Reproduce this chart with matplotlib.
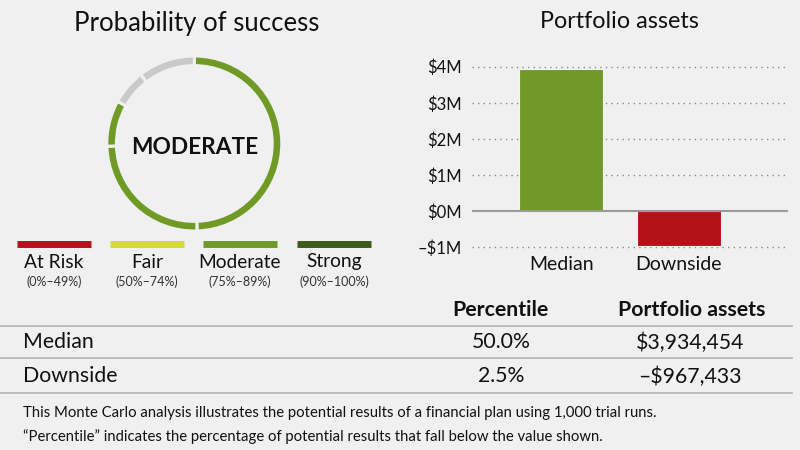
import matplotlib.pyplot as plt
import numpy as np

plt.rcParams['font.family'] = ['Lato', 'DejaVu Sans']

# data
success_pct = 83
rating = "MODERATE"
band_names = ["At Risk", "Fair", "Moderate", "Strong"]
band_ranges = ["(0%–49%)", "(50%–74%)", "(75%–89%)", "(90%–100%)"]
band_colors = ["#b5121b", "#d5d93c", "#6e9a2a", "#3f5b1b"]
band_edges = [49.5, 74.5, 89.5, 100]

scenarios = ["Median", "Downside"]
percentiles = ["50.0%", "2.5%"]
assets = [3934454, -967433]
asset_labels = ["$3,934,454", "–$967,433"]
yticks = [-1, 0, 1, 2, 3, 4]
ytick_labels = ["–$1M", "$0M", "$1M", "$2M", "$3M", "$4M"]

notes = ["This Monte Carlo analysis illustrates the potential results of a financial plan using 1,000 trial runs.",
         "“Percentile” indicates the percentage of potential results that fall below the value shown."]

bg = "#f0f0f0"
green = "#6f9a26"
red = "#b31217"
gray_ring = "#c9c9c9"

fig = plt.figure(figsize=(8, 4.5), dpi=100, facecolor=bg)
W, H = 800, 450

# background axes in pixel coordinates
base = fig.add_axes([0, 0, 1, 1])
base.set_xlim(0, W)
base.set_ylim(H, 0)
base.axis('off')
base.set_facecolor(bg)

# ---- donut ----
cx, cy, r = 194.3, 143.5, 87.5
dax = fig.add_axes([(cx - r) / W, 1 - (cy + r) / H, 2 * r / W, 2 * r / H])
bounds = sorted(set([0] + band_edges + [success_pct]))
sizes = np.diff(bounds)
cols = [green if b1 <= success_pct else gray_ring for b1 in bounds[1:]]
dax.pie(sizes, colors=cols, startangle=90, counterclock=False, radius=1,
        wedgeprops=dict(width=0.11, edgecolor=bg, linewidth=2.2))
dax.set_xlim(-1, 1)
dax.set_ylim(-1, 1)
dax.set_aspect('auto')
dax.axis('off')
dax.text(0, -0.05, rating, ha='center', va='center', fontsize=16.3, fontweight='bold', color='#111111')

base.text(197, 23, "Probability of success", ha='center', va='center', fontsize=18.5, color='#111111')

# legend bands
lx0 = [17, 110, 203, 297]
for i, name in enumerate(band_names):
    base.plot([lx0[i], lx0[i] + 74], [244, 244], color=band_colors[i], lw=5, solid_capstyle='butt')
    base.text(lx0[i] + 37, 262, name, ha='center', va='center', fontsize=13.8, color='#111111')
    base.text(lx0[i] + 37, 282, band_ranges[i], ha='center', va='center', fontsize=9, color='#333333')

# ---- bar chart ----
ppm = 36.1
ylo, yhi = -1.05, 4.05
top_px = 66.7 - (yhi - 4) * ppm
h_px = (yhi - ylo) * ppm
bax = fig.add_axes([471.7 / W, 1 - (top_px + h_px) / H, (788 - 471.7) / W, h_px / H])
bax.set_facecolor('none')
vals = [a / 1e6 for a in assets]
bax.bar(range(len(scenarios)), vals, width=0.715, color=[green, red], edgecolor='#f4f4f4', linewidth=0.8, zorder=3)
bax.set_xlim(-0.76, 1.93)
bax.set_ylim(ylo, yhi)
for t in yticks:
    if t == 0:
        bax.axhline(0, color='#9a9a9a', lw=1.5, zorder=4)
    else:
        bax.axhline(t, color='#8a8a8a', lw=1, ls=(0, (1, 3)), zorder=1)
bax.set_yticks(yticks)
bax.set_yticklabels(ytick_labels, fontsize=12, color='#111111')
bax.set_xticks(range(len(scenarios)))
bax.set_xticklabels(scenarios, fontsize=14, color='#111111')
bax.tick_params(length=0)
bax.tick_params(axis='y', pad=7)
bax.tick_params(axis='x', pad=5)
for s in bax.spines.values():
    s.set_visible(False)

base.text(619, 22, "Portfolio assets", ha='center', va='center', fontsize=16.8, color='#111111')

# ---- table ----
base.text(500, 310, "Percentile", ha='center', va='center', fontsize=15.3, fontweight='bold', color='#111111')
base.text(692, 310, "Portfolio assets", ha='center', va='center', fontsize=15.3, fontweight='bold', color='#111111')
for yl in [325.7, 358.3, 392.7]:
    base.plot([0, 792], [yl, yl], color='#b5b5b5', lw=1.2)
row_y = [342.5, 376.5]
for i, s in enumerate(scenarios):
    base.text(23, row_y[i], s, ha='left', va='center', fontsize=15.3, color='#111111')
    base.text(501, row_y[i], percentiles[i], ha='center', va='center', fontsize=15.3, color='#111111')
    base.text(690, row_y[i], asset_labels[i], ha='center', va='center', fontsize=15.3, color='#111111')

for i, n in enumerate(notes):
    base.text(23, 413 + i * 23.5, n, ha='left', va='center', fontsize=10.75, color='#111111')

fig.savefig("out.png", dpi=100, facecolor=bg)
